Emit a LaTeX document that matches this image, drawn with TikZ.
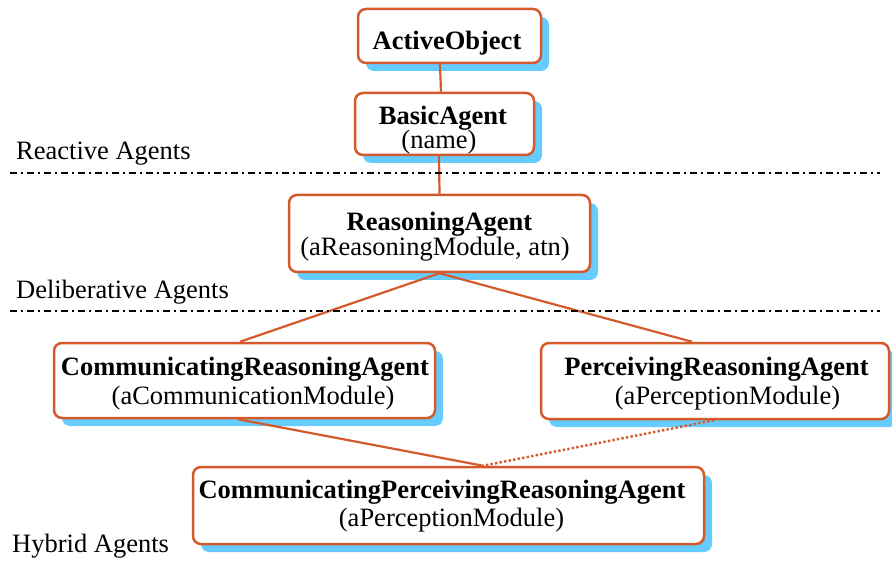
\documentclass[tikz,border=0pt]{standalone}
\usepackage{fontspec}
\setmainfont{Liberation Serif}
\usetikzlibrary{shadows}
\definecolor{boxline}{HTML}{D45A2C}
\definecolor{shadowblue}{HTML}{66CCFF}
\begin{document}
\begin{tikzpicture}[x=1pt,y=-1pt,
  cls/.style={draw=boxline, line width=2.5pt, rounded corners=8pt, fill=white,
    inner sep=0pt,
    drop shadow={shadow xshift=8pt, shadow yshift=-8pt, fill=shadowblue, opacity=1}},
  title/.style={anchor=base, inner sep=0pt, font=\fontsize{26.5}{26.5}\selectfont\bfseries},
  arg/.style={anchor=base, inner sep=0pt, font=\fontsize{26.5}{26.5}\selectfont},
  link/.style={draw=boxline, line width=2.2pt},
  linkdot/.style={draw=boxline, line width=2.4pt, dash pattern=on 2.4pt off 2.2pt},
  layer/.style={black, line width=1.4pt, dash pattern=on 7pt off 4pt on 2pt off 4pt},
  lab/.style={anchor=base west, inner sep=0pt, font=\fontsize{26.5}{26.5}\selectfont}]
\useasboundingbox (0,0) rectangle (892,564);
% boxes
\node[cls, minimum width=183pt, minimum height=54pt] (ao) at (449.5,36) {};
\node[cls, minimum width=179pt, minimum height=62pt] (ba) at (444.5,124) {};
\node[cls, minimum width=301pt, minimum height=77pt] (ra) at (439.5,233.5) {};
\node[cls, minimum width=381pt, minimum height=75pt] (cra) at (244.5,380.5) {};
\node[cls, minimum width=348pt, minimum height=76pt] (pra) at (715,381) {};
\node[cls, minimum width=511pt, minimum height=77pt] (cpra) at (448.5,505.5) {};
% texts
\node[title] (ao-t) at (447,50) {ActiveObject};
\node[title] (ba-t) at (443,124.5) {BasicAgent};
\node[arg] (ba-a) at (439,148.5) {(name)};
\node[title] (ra-t) at (439.5,230.5) {ReasoningAgent};
\node[arg] (ra-a) at (435,256) {(aReasoningModule, atn)};
\node[title] (cra-t) at (245,375.5) {CommunicatingReasoningAgent};
\node[arg] (cra-a) at (253,404) {(aCommunicationModule)};
\node[title] (pra-t) at (716.5,375.5) {PerceivingReasoningAgent};
\node[arg] (pra-a) at (727.5,404) {(aPerceptionModule)};
\node[title] (cpra-t) at (442,498.5) {CommunicatingPerceivingReasoningAgent};
\node[arg] (cpra-a) at (451.5,526) {(aPerceptionModule)};
% connectors
\draw[link] ([xshift=-9.5pt]ao.south) -- ([xshift=-3.5pt]ba.north);
\draw[link] ([xshift=-5.5pt]ba.south) -- (ra.north);
\draw[link] (ra.south) -- ([xshift=-4.5pt]cra.north);
\draw[link] (ra.south) -- ([xshift=-23pt]pra.north);
\draw[link] ([xshift=-6.5pt]cra.south) -- ([xshift=34.5pt]cpra.north);
\draw[linkdot] ([xshift=-1pt]pra.south) -- ([xshift=34.5pt]cpra.north);
% layer separators
\coordinate (r1) at (10,173);
\coordinate (r2) at (880,173);
\coordinate (d1) at (10,311);
\coordinate (d2) at (880,311);
\draw[layer] (r1) -- (r2);
\draw[layer] (d1) -- (d2);
\node[lab] (reactive) at (16,160) {Reactive Agents};
\node[lab] (delib) at (16,298.5) {Deliberative Agents};
\node[lab] (hybrid) at (12,552.5) {Hybrid Agents};
\end{tikzpicture}
\end{document}
